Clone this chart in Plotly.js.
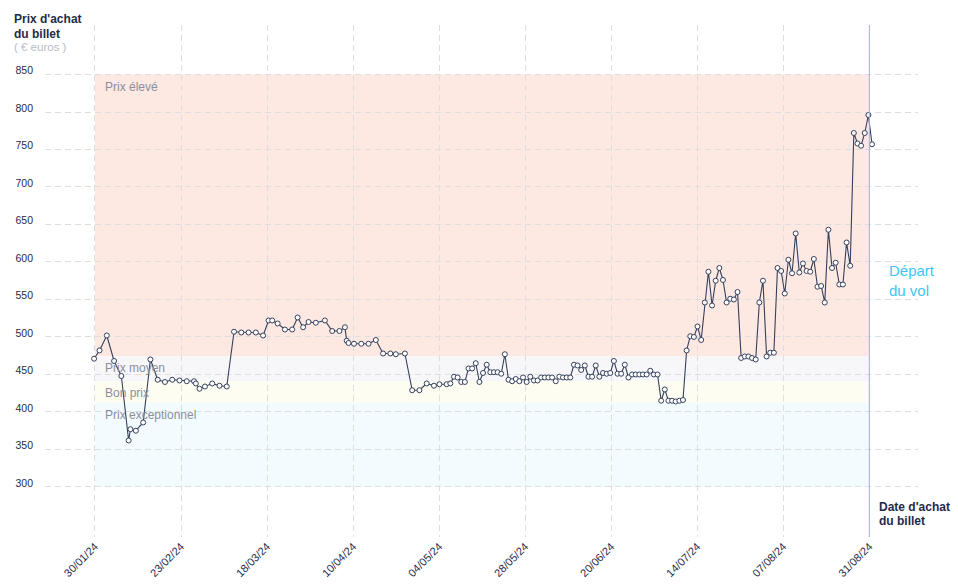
<!DOCTYPE html>
<html><head><meta charset="utf-8">
<script src="https://cdn.plot.ly/plotly-3.0.1.min.js"></script>
<style>html,body{margin:0;padding:0;background:#fff}#chart{width:958px;height:585px}</style>
</head><body><div id="chart"></div>
<script>
// ---- data ----
const dates = [
'2024-01-30','2024-01-31 12:00','2024-02-02 12:00','2024-02-04 12:00','2024-02-06 12:00','2024-02-08 12:00','2024-02-09','2024-02-10 12:00','2024-02-12 12:00','2024-02-14 12:00',
'2024-02-16 12:00','2024-02-18 12:00','2024-02-20 12:00','2024-02-22 12:00','2024-02-24 12:00','2024-02-26 12:00','2024-02-27','2024-02-28','2024-02-29 12:00','2024-03-02 12:00',
'2024-03-04 12:00','2024-03-06 12:00','2024-03-08 12:00','2024-03-10 12:00','2024-03-12 12:00','2024-03-14 12:00','2024-03-16 12:00','2024-03-18','2024-03-19','2024-03-20 12:00',
'2024-03-22 12:00','2024-03-24 12:00','2024-03-26','2024-03-27 12:00','2024-03-29','2024-03-31','2024-04-02 12:00','2024-04-04 12:00','2024-04-06 12:00','2024-04-08',
'2024-04-08 12:00','2024-04-09','2024-04-10 12:00','2024-04-12 12:00','2024-04-14 12:00','2024-04-16 12:00','2024-04-18 12:00','2024-04-20 12:00','2024-04-22','2024-04-24 12:00',
'2024-04-26 12:00','2024-04-28 12:00','2024-04-30 12:00','2024-05-02 12:00','2024-05-04',
'2024-05-06','2024-05-07','2024-05-08','2024-05-09','2024-05-10','2024-05-11','2024-05-12','2024-05-13','2024-05-14','2024-05-15',
'2024-05-16','2024-05-17','2024-05-18','2024-05-19','2024-05-20','2024-05-21','2024-05-22','2024-05-23','2024-05-24','2024-05-25',
'2024-05-26','2024-05-27','2024-05-28','2024-05-29','2024-05-30','2024-05-31',
'2024-06-01','2024-06-02','2024-06-03','2024-06-04','2024-06-05','2024-06-06','2024-06-07','2024-06-08','2024-06-09','2024-06-10',
'2024-06-11','2024-06-12','2024-06-13','2024-06-14','2024-06-15','2024-06-16','2024-06-17','2024-06-18','2024-06-19','2024-06-20',
'2024-06-21','2024-06-22','2024-06-23','2024-06-24','2024-06-25','2024-06-26','2024-06-27','2024-06-28','2024-06-29','2024-06-30',
'2024-07-01','2024-07-02','2024-07-03','2024-07-04','2024-07-05','2024-07-06','2024-07-07','2024-07-08','2024-07-09','2024-07-10',
'2024-07-11','2024-07-12','2024-07-13','2024-07-14','2024-07-15','2024-07-16','2024-07-17','2024-07-18','2024-07-19','2024-07-20',
'2024-07-21','2024-07-22','2024-07-23','2024-07-24','2024-07-25','2024-07-26','2024-07-27','2024-07-28','2024-07-29','2024-07-30','2024-07-31',
'2024-08-01','2024-08-02','2024-08-03','2024-08-04','2024-08-05','2024-08-06','2024-08-07','2024-08-08','2024-08-09','2024-08-10',
'2024-08-11','2024-08-12','2024-08-13','2024-08-14','2024-08-15','2024-08-16','2024-08-17','2024-08-18','2024-08-19','2024-08-20',
'2024-08-21','2024-08-22','2024-08-23','2024-08-24','2024-08-25','2024-08-26','2024-08-27','2024-08-28','2024-08-29','2024-08-30','2024-08-31'
];
const prices = [
471,482,502,468,448,362,377,375,386,470,
443,440,443,442,441,441,438,431,434,438,
435,434,507,506,506,506,502,522,522,518,
510,510,526,513,520,519,522,508,508,513,
495,492,491,491,491,496,478,478,477,478,
429,429,438,435,437,
437,438,447,446,440,440,458,458,465,440,
452,463,453,453,453,451,477,443,441,444,
441,446,440,447,442,442,
446,446,446,446,441,447,446,446,446,463,
462,456,462,447,447,462,447,452,451,452,
468,451,451,463,446,450,450,450,450,450,
455,450,450,415,430,415,415,414,415,416,
482,501,500,514,496,546,587,542,575,592,
576,546,551,550,560,472,474,474,472,470,546,
575,474,479,479,592,588,558,603,585,638,
586,598,588,587,604,567,568,546,643,592,
599,570,570,626,595,772,758,755,772,796,757
];
const xTickLabels = ['30/01/24','23/02/24','18/03/24','10/04/24','04/05/24','28/05/24','20/06/24','14/07/24','07/08/24','31/08/24'];
const yTickValues = [300,350,400,450,500,550,600,650,700,750,800,850];
const bandNames  = ['Prix élevé','Prix moyen','Bon prix','Prix exceptionnel'];
const bandTops   = [850,474,441,412];
const bandBottoms= [474,441,412,300];
const bandColors = ['#fde8e2','#f7f7f9','#fdfdf1','#f2fbfe'];

// ---- layout constants ----
const periodStart = Date.UTC(2024,0,30,6,0);
const periodEnd   = Date.UTC(2024,7,30,6,15);
const xRange = ['2024-01-16 12:00','2024-09-12 15:36'];
const yRange = [233.3, 916];
const M = {l:45, r:40, t:25, b:48};
const W = 958, H = 585;
const pw = W - M.l - M.r, ph = H - M.t - M.b;
const px = x => (x - M.l) / pw;
const py = y => (H - M.b - y) / ph;

const tickVals = xTickLabels.map((_, i) => periodStart + i * (periodEnd - periodStart) / (xTickLabels.length - 1));

const FONT = 'Liberation Sans, Arial, sans-serif';
const NAVY = '#1f2b47';
const LINE = '#34405c';

const shapes = bandNames.map((n, i) => ({
  type:'rect', xref:'x', yref:'y', x0:periodStart, x1:periodEnd, y0:bandBottoms[i], y1:bandTops[i],
  fillcolor:bandColors[i], line:{width:0}, layer:'below'
}));
shapes.push({type:'line', xref:'x', yref:'paper', x0:periodEnd, x1:periodEnd, y0:0, y1:1,
  line:{color:'#6fcbe9', width:1}, layer:'above'});

const annotations = bandNames.map((n, i) => ({
  xref:'x', yref:'y', x:periodStart, y:bandTops[i], xanchor:'left', yanchor:'top', xshift:8, yshift:-3,
  text:n, showarrow:false, font:{family:FONT, size:12, color:'#8a8f9b'}
}));
const txt = (t, x, y, size, color, bold) => ({
  xref:'paper', yref:'paper', x:px(x), y:py(y), xanchor:'left', yanchor:'middle',
  text: bold ? '<b>' + t + '</b>' : t, showarrow:false, font:{family:FONT, size:size, color:color}
});
annotations.push(txt("Prix d'achat", 12, 19, 12, NAVY, true));
annotations.push(txt('du billet', 12, 34, 12, NAVY, true));
annotations.push(txt('( € euros )', 12, 47, 11.5, '#b8bcc5', false));
annotations.push(txt('Départ', 887, 270, 15, '#3cc6ef', false));
annotations.push(txt('du vol', 887, 290, 15, '#3cc6ef', false));
annotations.push(txt("Date d'achat", 877, 507, 12, NAVY, true));
annotations.push(txt('du billet', 877, 521, 12, NAVY, true));

const trace = {
  type:'scatter', mode:'lines+markers', x:dates, y:prices,
  line:{color:LINE, width:1.1},
  marker:{size:5, color:'#ffffff', line:{color:LINE, width:1}},
  hoverinfo:'skip', cliponaxis:false
};

const layout = {
  width:W, height:H, margin:M, showlegend:false,
  paper_bgcolor:'#ffffff', plot_bgcolor:'#ffffff',
  font:{family:FONT, color:NAVY},
  xaxis:{type:'date', range:xRange, tickvals:tickVals, ticktext:xTickLabels, tickangle:-45,
    tickfont:{family:FONT, size:11, color:NAVY}, showgrid:true, gridcolor:'#dedede', griddash:'6px,4px', gridwidth:1,
    zeroline:false, showline:false, ticks:'', automargin:false, fixedrange:true},
  yaxis:{range:yRange, tickvals:yTickValues, tickfont:{family:FONT, size:10.5, color:NAVY},
    showgrid:true, gridcolor:'#dedede', griddash:'6px,4px', gridwidth:1, zeroline:false, showline:false,
    ticks:'', automargin:false, ticklabelstandoff:11, ticklabelshift:-4, fixedrange:true},
  shapes:shapes, annotations:annotations
};

Plotly.newPlot('chart', [trace], layout, {staticPlot:true, displayModeBar:false});
</script>
</body></html>
